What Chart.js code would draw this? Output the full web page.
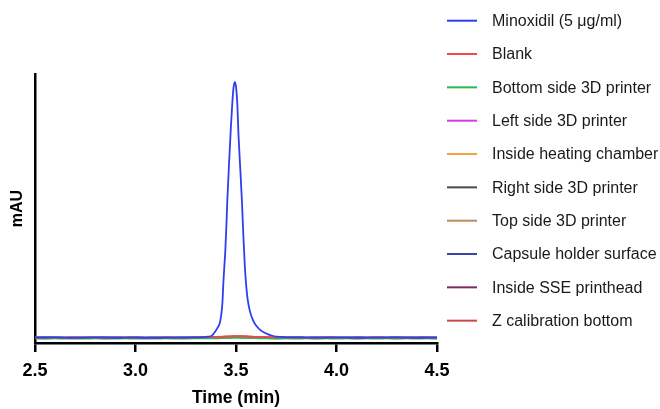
<!DOCTYPE html>
<html>
<head>
<meta charset="utf-8">
<title>Chromatograms</title>
<script src="https://cdn.jsdelivr.net/npm/chart.js@4.4.1/dist/chart.umd.min.js"></script>
<style>
  html, body { margin: 0; padding: 0; background: #ffffff; }
  #chart { display: block; }
</style>
</head>
<body>
<canvas id="chart" width="660" height="409"></canvas>
<script>
// Time axis (min)
const xTicks = [2.5, 3.0, 3.5, 4.0, 4.5];

// Sampling times shared by the swab / blank traces
const timeBase = [2.50, 2.55, 2.60, 2.65, 2.70, 2.75, 2.80, 2.85, 2.90, 2.95,
                  3.00, 3.05, 3.10, 3.15, 3.20, 3.25, 3.30, 3.35, 3.40, 3.45,
                  3.50, 3.55, 3.60, 3.65, 3.70, 3.75, 3.80, 3.85, 3.90, 3.95,
                  4.00, 4.05, 4.10, 4.15, 4.20, 4.25, 4.30, 4.35, 4.40, 4.45, 4.50];

// Minoxidil standard, sampled more densely across the peak
const timeStd = [2.50, 2.60, 2.70, 2.80, 2.90, 3.00, 3.10, 3.20, 3.30, 3.34,
                 3.36, 3.38, 3.396, 3.41, 3.420, 3.428, 3.433, 3.437, 3.442, 3.447,
                 3.452, 3.457, 3.466, 3.474, 3.482, 3.488, 3.494, 3.500, 3.506, 3.513,
                 3.522, 3.530, 3.537, 3.544, 3.550, 3.558, 3.570, 3.585, 3.600, 3.620,
                 3.640, 3.660, 3.680, 3.700, 3.750, 3.800, 3.900, 4.000, 4.100, 4.200,
                 4.300, 4.400, 4.500];
const minoxidil = [0.05, 0.15, -0.05, 0.10, 0.00, 0.05, -0.05, 0.05, 0.10, 0.20,
                   0.40, 0.80, 2.30, 4.00, 5.80, 9.50, 14.0, 20.7, 27.0, 33.3,
                   42.0, 52.2, 67.0, 79.0, 89.5, 95.0, 96.9, 95.2, 89.5, 76.0,
                   63.0, 51.0, 38.0, 27.0, 20.5, 14.5, 9.8, 6.6, 4.6, 3.0,
                   2.0, 1.3, 0.75, 0.40, 0.15, 0.10, 0.05, 0.10, 0.00, 0.05,
                   0.10, 0.00, 0.05];

const blank        = [0.10, 0.20, 0.10, 0.00, 0.20, 0.10, 0.20, 0.00, 0.10, 0.20,
                      0.10, 0.00, 0.10, 0.20, 0.10, 0.10, 0.20, 0.30, 0.20, 0.40,
                      0.60, 0.50, 0.30, 0.20, 0.10, 0.20, 0.10, 0.00, 0.10, 0.20,
                      0.10, 0.10, 0.00, 0.10, 0.20, 0.10, 0.00, 0.10, 0.20, 0.10, 0.10];
const bottomSide   = [-0.30, -0.40, -0.30, -0.35, -0.30, -0.40, -0.30, -0.35, -0.40, -0.30,
                      -0.35, -0.30, -0.40, -0.30, -0.35, -0.30, -0.30, -0.30, -0.25, -0.10,
                      0.00, -0.10, -0.20, -0.30, -0.35, -0.30, -0.40, -0.30, -0.35, -0.30,
                      -0.40, -0.30, -0.35, -0.30, -0.40, -0.30, -0.35, -0.30, -0.40, -0.30, -0.35];
const leftSide     = [0.00, 0.05, -0.05, 0.10, 0.00, -0.05, 0.05, 0.10, 0.00, -0.05,
                      0.05, 0.00, 0.10, 0.05, -0.05, 0.00, 0.05, 0.10, 0.15, 0.25,
                      0.35, 0.30, 0.15, 0.05, 0.00, 0.05, -0.05, 0.00, 0.10, 0.05,
                      0.00, -0.05, 0.05, 0.00, 0.10, 0.05, 0.00, -0.05, 0.05, 0.00, 0.05];
const heating      = [-0.15, -0.10, -0.20, -0.15, -0.10, -0.15, -0.20, -0.10, -0.15, -0.20,
                      -0.10, -0.15, -0.10, -0.20, -0.15, -0.10, -0.05, 0.00, 0.10, 0.30,
                      0.45, 0.40, 0.10, -0.05, -0.10, -0.15, -0.20, -0.10, -0.15, -0.10,
                      -0.20, -0.15, -0.10, -0.15, -0.20, -0.10, -0.15, -0.10, -0.20, -0.15, -0.10];
const rightSide    = [-0.20, -0.25, -0.15, -0.20, -0.25, -0.20, -0.15, -0.25, -0.20, -0.15,
                      -0.20, -0.25, -0.20, -0.15, -0.20, -0.25, -0.20, -0.15, -0.10, 0.00,
                      0.10, 0.05, -0.10, -0.20, -0.25, -0.20, -0.15, -0.20, -0.25, -0.20,
                      -0.15, -0.20, -0.25, -0.20, -0.15, -0.20, -0.25, -0.20, -0.15, -0.20, -0.25];
const topSide      = [-0.05, 0.00, -0.10, -0.05, 0.00, -0.05, -0.10, 0.00, -0.05, -0.10,
                      0.00, -0.05, 0.00, -0.10, -0.05, 0.00, 0.05, 0.10, 0.20, 0.35,
                      0.50, 0.45, 0.20, 0.05, -0.05, 0.00, -0.10, -0.05, 0.00, -0.05,
                      -0.10, 0.00, -0.05, -0.10, 0.00, -0.05, 0.00, -0.10, -0.05, 0.00, -0.05];
const capsule      = [0.15, 0.10, 0.20, 0.10, 0.15, 0.20, 0.10, 0.15, 0.20, 0.10,
                      0.15, 0.10, 0.20, 0.15, 0.10, 0.15, 0.20, 0.20, 0.25, 0.30,
                      0.40, 0.35, 0.25, 0.15, 0.10, 0.15, 0.20, 0.10, 0.15, 0.20,
                      0.10, 0.15, 0.20, 0.10, 0.15, 0.10, 0.20, 0.15, 0.10, 0.15, 0.20];
const ssePrinthead = [-0.10, -0.05, -0.15, -0.10, -0.05, -0.10, -0.15, -0.05, -0.10, -0.05,
                      -0.15, -0.10, -0.05, -0.10, -0.15, -0.05, -0.10, -0.05, 0.05, 0.20,
                      0.35, 0.30, 0.05, -0.05, -0.10, -0.15, -0.05, -0.10, -0.15, -0.05,
                      -0.10, -0.15, -0.05, -0.10, -0.05, -0.15, -0.10, -0.05, -0.10, -0.15, -0.10];
const zCalibration = [0.05, 0.15, 0.05, 0.10, 0.15, 0.05, 0.10, 0.15, 0.05, 0.10,
                      0.15, 0.05, 0.10, 0.05, 0.15, 0.10, 0.15, 0.25, 0.35, 0.50,
                      0.65, 0.55, 0.30, 0.15, 0.10, 0.05, 0.15, 0.10, 0.05, 0.15,
                      0.10, 0.05, 0.15, 0.10, 0.05, 0.10, 0.15, 0.05, 0.10, 0.15, 0.05];

const seriesLabels = [
  'Minoxidil (5 \u03bcg/ml)', 'Blank', 'Bottom side 3D printer', 'Left side 3D printer',
  'Inside heating chamber', 'Right side 3D printer', 'Top side 3D printer',
  'Capsule holder surface', 'Inside SSE printhead', 'Z calibration bottom'
];
const seriesColors = [
  '#2f3fee', '#f04848', '#2fb84a', '#d33fe0', '#f7a040',
  '#4a4a4a', '#c08a58', '#3b45a8', '#7e2a66', '#c84a48'
];
const seriesValues = [minoxidil, blank, bottomSide, leftSide, heating,
                      rightSide, topSide, capsule, ssePrinthead, zCalibration];

function toPoints(times, values) {
  return values.map((v, i) => ({ x: times[i], y: v }));
}

const datasets = seriesValues.map((vals, i) => ({
  label: seriesLabels[i],
  data: toPoints(i === 0 ? timeStd : timeBase, vals),
  borderColor: seriesColors[i],
  backgroundColor: seriesColors[i],
  borderWidth: i === 0 ? 1.8 : 1.6,
  pointRadius: 0,
  fill: false,
  cubicInterpolationMode: 'monotone'
}));

const FONT = '"Liberation Sans", Arial, Helvetica, sans-serif';

// Legend drawn to the right of the plot: short line sample + label
const sideLegend = {
  id: 'sideLegend',
  afterDraw(chart) {
    const ctx = chart.ctx;
    ctx.save();
    ctx.font = '16px ' + FONT;
    ctx.textBaseline = 'middle';
    ctx.textAlign = 'left';
    chart.data.datasets.forEach((ds, i) => {
      const y = 20.7 + i * 33.33;
      ctx.strokeStyle = ds.borderColor;
      ctx.lineWidth = 2;
      ctx.beginPath();
      ctx.moveTo(447, y);
      ctx.lineTo(477, y);
      ctx.stroke();
      ctx.fillStyle = '#1a1a1a';
      ctx.fillText(ds.label, 492, y + 1);
    });
    ctx.restore();
  }
};

new Chart(document.getElementById('chart'), {
  type: 'line',
  data: { datasets },
  plugins: [sideLegend],
  options: {
    responsive: false,
    animation: false,
    devicePixelRatio: 1,
    layout: { padding: { top: 74, right: 223, left: 0, bottom: 0 } },
    plugins: { legend: { display: false }, tooltip: { enabled: false } },
    scales: {
      x: {
        type: 'linear',
        min: xTicks[0],
        max: xTicks[xTicks.length - 1],
        afterFit(scale) { scale.height = 66; },
        afterBuildTicks(scale) { scale.ticks = xTicks.map(v => ({ value: v })); },
        border: { display: true, color: '#000000', width: 2.5 },
        grid: {
          display: true, drawOnChartArea: false, drawTicks: true,
          tickLength: 9, lineWidth: 2.5, color: '#000000'
        },
        ticks: {
          color: '#000000',
          padding: 8,
          maxRotation: 0,
          autoSkip: false,
          font: { family: FONT, size: 18, weight: 'bold' },
          callback: v => Number(v).toFixed(1)
        },
        title: {
          display: true,
          text: 'Time (min)',
          color: '#000000',
          padding: { top: 0, bottom: 0 },
          font: { family: FONT, size: 17.5, weight: 'bold' }
        }
      },
      y: {
        type: 'linear',
        min: -2,
        max: 100,
        afterFit(scale) { scale.width = 35; },
        border: { display: true, color: '#000000', width: 2.5 },
        grid: { display: false, drawTicks: false },
        ticks: { display: false },
        title: {
          display: true,
          text: 'mAU',
          color: '#000000',
          padding: { top: 8, bottom: 0 },
          font: { family: FONT, size: 16, weight: 'bold' }
        }
      }
    }
  }
});
</script>
</body>
</html>
